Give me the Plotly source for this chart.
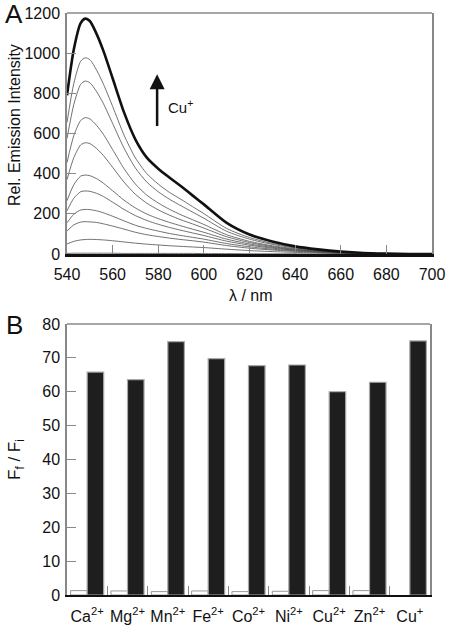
import plotly.graph_objects as go

# ---------------- Panel A data: emission spectra during Cu+ titration ----------------
wavelength = [540, 543, 546, 548, 550, 553, 556, 560, 565, 570, 575, 580, 585, 590, 595,
              600, 610, 620, 630, 640, 650, 660, 670, 680, 690, 700]

spec_00 = [3, 4, 4, 4, 4, 4, 4, 4, 3, 3, 3, 3, 3, 3, 3, 2, 2, 1, 1, 1, 0, 0, 0, 0, 0, 0]
spec_01 = [50, 63, 70, 72, 73, 72, 70, 66, 60, 54, 49, 45, 41, 38, 35, 32, 24, 17, 12, 8, 5, 3, 1, 0, 0, 0]
spec_02 = [115, 145, 159, 161, 160, 157, 150, 139, 124, 108, 96, 87, 79, 72, 66, 59, 42, 29, 20, 13, 8, 4, 2, 1, 0, 0]
spec_03 = [155, 198, 219, 222, 221, 215, 205, 188, 165, 143, 127, 114, 102, 92, 83, 74, 52, 36, 24, 16, 10, 5, 2, 1, 0, 0]
spec_04 = [215, 278, 310, 314, 312, 302, 286, 258, 222, 191, 167, 148, 132, 118, 105, 92, 64, 44, 29, 19, 12, 6, 3, 1, 0, 0]
spec_05 = [265, 345, 388, 393, 390, 375, 352, 315, 268, 229, 199, 176, 157, 140, 124, 108, 74, 50, 33, 21, 13, 7, 3, 1, 0, 0]
spec_06 = [370, 480, 543, 554, 550, 525, 490, 432, 358, 297, 253, 220, 193, 170, 150, 129, 86, 57, 37, 23, 14, 8, 4, 2, 0, 0]
spec_07 = [455, 590, 665, 679, 673, 640, 595, 520, 425, 348, 293, 254, 222, 195, 171, 147, 96, 63, 41, 26, 16, 9, 4, 2, 0, 0]
spec_08 = [575, 745, 845, 861, 853, 808, 748, 650, 527, 428, 358, 310, 272, 240, 209, 178, 113, 74, 48, 30, 18, 10, 5, 2, 0, 0]
spec_09 = [655, 850, 960, 977, 968, 915, 845, 735, 592, 478, 400, 348, 306, 272, 236, 201, 127, 82, 53, 33, 20, 11, 5, 2, 0, 0]
spec_final = [790, 1020, 1150, 1172, 1160, 1095, 1010, 875, 705, 570, 480, 425, 380, 337, 292,
              247, 155, 97, 62, 38, 23, 12, 5, 2, 0, 0]

thin_spectra = [spec_00, spec_01, spec_02, spec_03, spec_04, spec_05,
                spec_06, spec_07, spec_08, spec_09]

x_ticks_a = [540, 560, 580, 600, 620, 640, 660, 680, 700]
y_ticks_a = [0, 200, 400, 600, 800, 1000, 1200]

# ---------------- Panel B data: selectivity ----------------
ions = ["Ca<sup>2+</sup>", "Mg<sup>2+</sup>", "Mn<sup>2+</sup>", "Fe<sup>2+</sup>",
        "Co<sup>2+</sup>", "Ni<sup>2+</sup>", "Cu<sup>2+</sup>", "Zn<sup>2+</sup>", "Cu<sup>+</sup>"]
ratio_initial = [1.3, 1.2, 1.0, 1.2, 1.0, 1.1, 1.3, 1.3, None]
ratio_final = [65.8, 63.6, 74.8, 69.8, 67.7, 67.9, 60.0, 62.8, 75.0]
y_ticks_b = [0, 10, 20, 30, 40, 50, 60, 70, 80]

W, H = 450, 630
FONT = "Liberation Sans, Arial, sans-serif"

fig = go.Figure()

for s in thin_spectra:
    fig.add_trace(go.Scatter(x=wavelength, y=s, mode="lines",
                             line=dict(color="#4d4d4d", width=0.8, shape="spline", smoothing=0.7),
                             showlegend=False, hoverinfo="skip", xaxis="x", yaxis="y"))
fig.add_trace(go.Scatter(x=wavelength, y=spec_final, mode="lines",
                         line=dict(color="#111111", width=2.6, shape="spline", smoothing=0.7),
                         showlegend=False, xaxis="x", yaxis="y"))

fig.add_trace(go.Bar(x=ions, y=ratio_initial, marker=dict(color="white", line=dict(color="#999999", width=1)),
                     showlegend=False, xaxis="x2", yaxis="y2"))
fig.add_trace(go.Bar(x=ions, y=ratio_final, marker=dict(color="#1e1e1e", line=dict(color="#a8a8a8", width=1.2)),
                     showlegend=False, xaxis="x2", yaxis="y2"))


def px_x(p):
    return p / W


def px_y(p):
    return 1 - p / H


ax_common = dict(showgrid=False, zeroline=False, ticks="inside", ticklen=9, tickcolor="#888888",
                 automargin=False, tickfont=dict(family=FONT, size=16, color="#111"))

fig.update_layout(
    width=W, height=H,
    margin=dict(l=0, r=0, t=0, b=0, autoexpand=False),
    paper_bgcolor="white", plot_bgcolor="white",
    font=dict(family=FONT, color="#111"),
    barmode="group", bargap=0.18, bargroupgap=0.0,
    xaxis=dict(domain=[px_x(67), px_x(432)], anchor="y", range=[540, 700], tickvals=x_ticks_a,
               showline=True, linecolor="#111111", linewidth=2.5, ticklabelstandoff=4, **ax_common),
    yaxis=dict(domain=[px_y(254), px_y(13)], anchor="x", range=[0, 1200], tickvals=y_ticks_a,
               showline=True, linecolor="#888888", linewidth=1.5, mirror=True, ticklabelstandoff=2,
               **ax_common),
    xaxis2=dict(domain=[px_x(67), px_x(430)], anchor="y2", type="category", tickson="boundaries",
                tickangle=0, showline=True, linecolor="#111111", linewidth=1.5, ticklabelstandoff=6,
                **ax_common),
    yaxis2=dict(domain=[px_y(595), px_y(324)], anchor="x2", range=[0, 80], tickvals=y_ticks_b,
                showline=True, linecolor="#888888", linewidth=1.5, mirror=True, ticklabelstandoff=2,
                **ax_common),
)

# top frame lines (gray)
for xr, yr in [("x domain", "y domain"), ("x2 domain", "y2 domain")]:
    fig.add_shape(type="line", xref=xr, yref=yr, x0=0, x1=1, y0=1, y1=1,
                  line=dict(color="#888888", width=1.5))

annots = [
    dict(text="A", x=px_x(14), y=px_y(14), size=26, angle=0),
    dict(text="B", x=px_x(14), y=px_y(325), size=26, angle=0),
    dict(text="Rel. Emission Intensity", x=px_x(15), y=px_y(125), size=16, angle=-90),
    dict(text="λ / nm", x=px_x(251), y=px_y(295), size=16, angle=0),
    dict(text="F<sub>f</sub> / F<sub>i</sub>", x=px_x(16), y=px_y(460), size=17, angle=-90),
]
for a in annots:
    fig.add_annotation(xref="paper", yref="paper", showarrow=False, xanchor="center", yanchor="middle",
                       text=a["text"], x=a["x"], y=a["y"], textangle=a["angle"],
                       font=dict(family=FONT, color="#111", size=a["size"]))

# Cu+ arrow and label
fig.add_annotation(xref="x", yref="y", axref="x", ayref="y", x=579.5, y=895, ax=579.5, ay=630,
                   showarrow=True, arrowhead=2, arrowsize=1.2, arrowwidth=2.5, arrowcolor="#111", text="")
fig.add_annotation(xref="x", yref="y", x=583.5, y=735, text="Cu<sup>+</sup>", showarrow=False,
                   xanchor="left", yanchor="middle", font=dict(family=FONT, size=15, color="#111"))

fig.write_html("out.html", config={"displayModeBar": False},
               post_script="document.body.style.margin='0';document.body.style.overflow='hidden';")
